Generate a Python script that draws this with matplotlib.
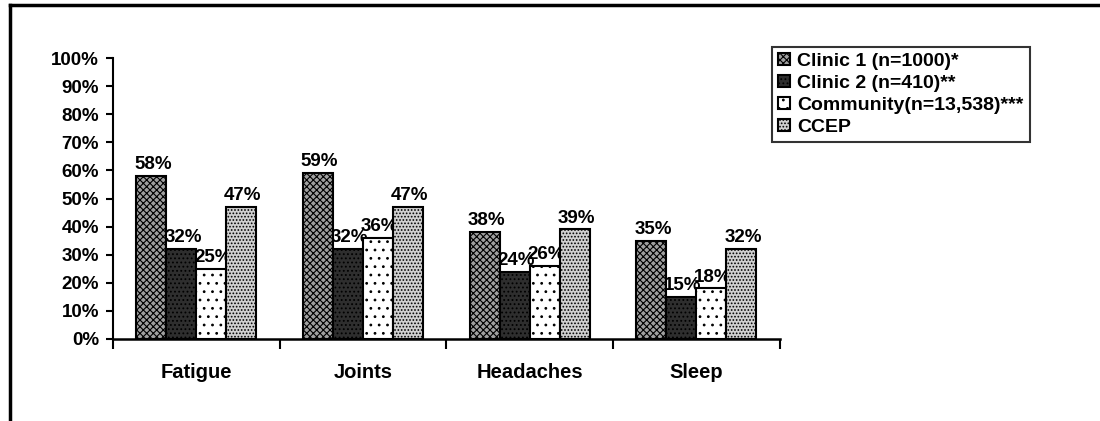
import matplotlib.pyplot as plt
import numpy as np
from matplotlib.lines import Line2D

plt.rcParams['font.family'] = 'Liberation Sans'
plt.rcParams['font.weight'] = 'bold'
plt.rcParams['hatch.linewidth'] = 0.8

categories = ["Fatigue", "Joints", "Headaches", "Sleep"]
series = ["Clinic 1 (n=1000)*", "Clinic 2 (n=410)**", "Community(n=13,538)***", "CCEP"]
clinic1 = [58, 59, 38, 35]
clinic2 = [32, 32, 24, 15]
community = [25, 36, 26, 18]
ccep = [47, 47, 39, 32]
values = [clinic1, clinic2, community, ccep]

faces = ['#a0a0a0', '#2e2e2e', 'white', '#d0d0d0']
hatches = ['xxxxx', '....', '..', '.....']

fig = plt.figure(figsize=(11, 4.21), dpi=100)
ax = fig.add_axes([0.1027, 0.195, 0.606, 0.667])

x = np.arange(len(categories))
w = 0.18
for i, (vals, fc, h) in enumerate(zip(values, faces, hatches)):
    pos = x + (i - 1.5) * w + 0.5
    ax.bar(pos, vals, width=w, color=fc, edgecolor='black', hatch=h,
           linewidth=1.5, zorder=3, label=series[i])
    # labels sit under the bars, as in the original where neighbours cover them
    for p, v in zip(pos, vals):
        ax.text(p + 0.01, v + 1.0, f"{v}%", ha='center', va='bottom',
                fontsize=13.5, fontweight='bold', zorder=2)

ax.set_xlim(0, 4)
ax.set_ylim(0, 100)
ax.set_yticks(range(0, 101, 10))
ax.set_yticklabels([f"{t}%" for t in range(0, 101, 10)], fontsize=13.5, fontweight='bold')
ax.set_xticks(range(0, 5))
ax.set_xticklabels([])
ax.set_xticks(x + 0.5, minor=True)
ax.set_xticklabels(categories, minor=True, fontsize=14.5, fontweight='bold')
ax.tick_params(axis='x', which='minor', length=0, pad=17)
ax.tick_params(axis='x', which='major', length=7, width=1.5, direction='out')
ax.tick_params(axis='y', length=5, width=1.5, direction='out', pad=5)
for s in ['top', 'right']:
    ax.spines[s].set_visible(False)
ax.spines['left'].set_linewidth(1.5)
ax.spines['bottom'].set_linewidth(1.8)

leg = ax.legend(loc='upper left', bbox_to_anchor=(0.702, 0.888), bbox_transform=fig.transFigure,
                frameon=True, fancybox=False, edgecolor='black', fontsize=14,
                handlelength=0.6, handleheight=0.6, handletextpad=0.4,
                labelspacing=0.25, borderpad=0.3, borderaxespad=0)
leg.get_frame().set_linewidth(1.5)
for t in leg.get_texts():
    t.set_fontweight('bold')

# outer frame of the scanned figure
fig.add_artist(Line2D([0.009, 0.009], [0.0, 0.988], color='black', lw=2.5, transform=fig.transFigure))
fig.add_artist(Line2D([0.009, 1.0], [0.988, 0.988], color='black', lw=2.5, transform=fig.transFigure))

fig.savefig('out.png', dpi=100)
